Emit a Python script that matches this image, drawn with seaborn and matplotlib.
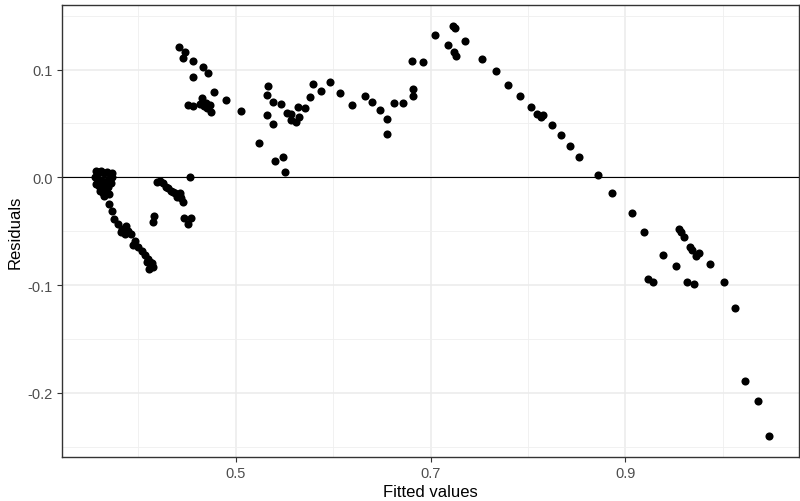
import numpy as np
import pandas as pd
import matplotlib
matplotlib.use("Agg")
import matplotlib.pyplot as plt
from matplotlib.ticker import FixedLocator
import seaborn as sns

# ---- data ----
fitted = [
    # left cluster
    0.3564, 0.3595, 0.3615, 0.3646, 0.3677, 0.3708, 0.3728, 0.3554, 0.3584, 0.3615,
    0.3646, 0.3677, 0.3708, 0.3564, 0.3595, 0.3626, 0.3656, 0.3687, 0.3718, 0.3605,
    0.3636, 0.3667, 0.3697, 0.3646, 0.3584, 0.3728,
    # descending chain
    0.3697, 0.3728, 0.3749, 0.3790, 0.3821, 0.3831, 0.3862, 0.3872, 0.3892, 0.3923,
    0.3944, 0.3964, 0.3995, 0.4036, 0.4067, 0.4087, 0.4097, 0.4118, 0.4128, 0.4149,
    0.4108, 0.4138,
    0.4159, 0.4149,
    # second small chain
    0.4190, 0.4221, 0.4251, 0.4282, 0.4303, 0.4333, 0.4354, 0.4374, 0.4405, 0.4426,
    0.4436, 0.4456, 0.4426, 0.4395,
    0.4467, 0.4538, 0.4508,
    0.4528,
    # upper cluster
    0.4421, 0.4477, 0.4453, 0.4562, 0.4665, 0.4718, 0.4557, 0.4777, 0.4895, 0.5051,
    0.4512, 0.4559, 0.4649, 0.4631, 0.4672, 0.4700, 0.4733, 0.4740, 0.4692,
    # middle band
    0.5239, 0.5335, 0.5325, 0.5325, 0.5382, 0.5382, 0.5462, 0.5407, 0.5482, 0.5503,
    0.5530, 0.5571, 0.5571, 0.5622, 0.5646, 0.5639, 0.5715, 0.5762, 0.5793, 0.5879,
    0.5964, 0.6067, 0.6193, 0.6330, 0.6402, 0.6484, 0.6549, 0.6549, 0.6621, 0.6716,
    0.6818, 0.6818, 0.6808, 0.6921, 0.7048,
    # peak and descent
    0.7229, 0.7246, 0.7177, 0.7349, 0.7236, 0.7256, 0.7526, 0.7667, 0.7793, 0.7913,
    0.8033, 0.8094, 0.8135, 0.8159, 0.8244, 0.8336, 0.8433, 0.8528, 0.8716, 0.8867,
    # right tail
    0.9069, 0.9188, 0.9554, 0.9571, 0.9605, 0.9667, 0.9680, 0.9721, 0.9759, 0.9383,
    0.9520, 0.9236, 0.9287, 0.9630, 0.9708, 0.9864, 1.0008, 1.0121, 1.0231, 1.0364,
    1.0480,
]
residuals = [
    0.0058, 0.0049, 0.0058, 0.0040, 0.0049, 0.0031, 0.0040, 0.0003, -0.0016, -0.0025,
    -0.0044, -0.0034, -0.0016, -0.0062, -0.0081, -0.0099, -0.0071, -0.0090, -0.0053, -0.0127,
    -0.0146, -0.0118, -0.0155, -0.0174, -0.0044, 0.0003,
    -0.0248, -0.0311, -0.0388, -0.0434, -0.0508, -0.0480, -0.0527, -0.0452, -0.0499, -0.0527,
    -0.0629, -0.0591, -0.0647, -0.0684, -0.0721, -0.0787, -0.0759, -0.0787, -0.0815, -0.0833,
    -0.0851, -0.0796,
    -0.0359, -0.0415,
    -0.0044, -0.0034, -0.0053, -0.0090, -0.0099, -0.0127, -0.0136, -0.0146, -0.0164, -0.0174,
    -0.0192, -0.0229, -0.0146, -0.0183,
    -0.0378, -0.0378, -0.0434,
    0.0000,
    0.1214, 0.1159, 0.1105, 0.1078, 0.1021, 0.0971, 0.0927, 0.0795, 0.0720, 0.0614,
    0.0671, 0.0662, 0.0736, 0.0681, 0.0659, 0.0641, 0.0671, 0.0604, 0.0690,
    0.0318, 0.0851, 0.0764, 0.0578, 0.0492, 0.0702, 0.0681, 0.0149, 0.0188, 0.0046,
    0.0594, 0.0588, 0.0535, 0.0516, 0.0563, 0.0650, 0.0641, 0.0748, 0.0869, 0.0801,
    0.0882, 0.0783, 0.0671, 0.0755, 0.0699, 0.0625, 0.0539, 0.0405, 0.0687, 0.0687,
    0.0752, 0.0823, 0.1077, 0.1071, 0.1324,
    0.1408, 0.1383, 0.1231, 0.1268, 0.1166, 0.1124, 0.1098, 0.0984, 0.0860, 0.0758,
    0.0653, 0.0585, 0.0557, 0.0578, 0.0483, 0.0396, 0.0293, 0.0188, 0.0017, -0.0143,
    -0.0331, -0.0505, -0.0480, -0.0511, -0.0552, -0.0644, -0.0675, -0.0728, -0.0703, -0.0721,
    -0.0826, -0.0944, -0.0969, -0.0969, -0.0988, -0.0808, -0.0969, -0.1216, -0.1889, -0.2077,
    -0.2399,
]
x_major = [0.5, 0.7, 0.9]
x_minor = [0.4, 0.6, 0.8, 1.0]
y_major = [-0.2, -0.1, 0.0, 0.1]
y_minor = [-0.25, -0.15, -0.05, 0.05, 0.15]
x_labels = ["0.5", "0.7", "0.9"]
y_labels = ["-0.2", "-0.1", "0.0", "0.1"]

df = pd.DataFrame({"Fitted values": fitted, "Residuals": residuals})

sns.set_style("white")
plt.rcParams["font.family"] = ["Liberation Sans", "DejaVu Sans"]

fig = plt.figure(figsize=(8.0, 5.02), dpi=100)
ax = fig.add_axes([62 / 800, 1 - 458 / 502, 1 - 62 / 800 - 0.001, (458 - 6) / 502])

ax.set_xlim(0.3215, 1.0785)
ax.set_ylim(-0.2597, 0.160)

ax.xaxis.set_major_locator(FixedLocator(x_major))
ax.xaxis.set_minor_locator(FixedLocator(x_minor))
ax.yaxis.set_major_locator(FixedLocator(y_major))
ax.yaxis.set_minor_locator(FixedLocator(y_minor))
ax.set_xticklabels(x_labels)
ax.set_yticklabels(y_labels)

ax.grid(True, which="major", color="#EBEBEB", linewidth=1.1)
ax.grid(True, which="minor", color="#EFEFEF", linewidth=0.6)
ax.set_axisbelow(True)

ax.axhline(0, color="black", linewidth=0.8, zorder=1)

sns.scatterplot(data=df, x="Fitted values", y="Residuals", ax=ax,
                color="black", s=34, linewidth=0, zorder=3)

for sp in ax.spines.values():
    sp.set_color("#333333")
    sp.set_linewidth(1.0)

ax.tick_params(axis="both", which="major", length=3.5, width=0.8, color="#333333",
               labelcolor="#4D4D4D", labelsize=10.5, direction="out", pad=3)
ax.tick_params(axis="both", which="minor", length=0)
ax.tick_params(bottom=True, left=True)

ax.set_xlabel("Fitted values", fontsize=12, color="black", labelpad=3)
ax.set_ylabel("Residuals", fontsize=12, color="black", labelpad=4)

fig.savefig("out.png", dpi=100)
